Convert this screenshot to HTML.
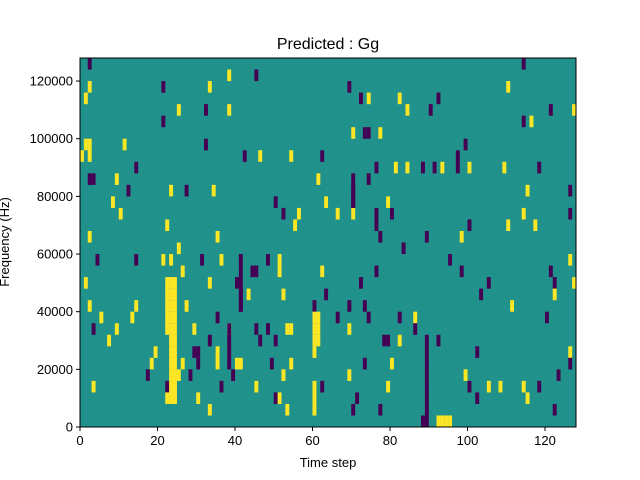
<!DOCTYPE html>
<html><head><style>body{margin:0;background:#fff}svg{display:block}</style></head>
<body>
<svg id="s" width="640" height="480" xmlns="http://www.w3.org/2000/svg" font-family="Liberation Sans, DejaVu Sans, sans-serif">
<rect x="80" y="58" width="496" height="369" fill="#21918c"/>
<g id="cells"></g>
<rect x="80" y="58" width="496" height="369" fill="none" stroke="#000" stroke-width="1"/>
<text x="328" y="49" font-size="16" text-anchor="middle">Predicted : Gg</text>
<text x="328" y="467" font-size="13" text-anchor="middle">Time step</text>
<text transform="translate(9,242) rotate(-90)" font-size="13" text-anchor="middle">Frequency (Hz)</text>
<g id="ax" font-size="13"></g>
</svg>
<script>
var Y="#fde725",P="#440154",g=document.getElementById('cells'),ns="http://www.w3.org/2000/svg";
var cw=496/128,rh=369/32;
function cell(c,r,col){var e=document.createElementNS(ns,'rect');e.setAttribute('x',80+c*cw);e.setAttribute('y',427-(r+1)*rh);e.setAttribute('width',cw+0.05);e.setAttribute('height',rh+0.05);e.setAttribute('fill',col);g.appendChild(e);}
function pt(x,y,col){cell(Math.floor((x-80)/cw),Math.floor((427-y)/rh),col);}
var d="89,62,P;90,85,Y;86,96,Y;163,85,P;229,73,Y;256,73,P;209,85,Y;348,85,P;523,62,P;507,85,Y;361,96,P;368,96,Y;398,96,Y;438,96,P;178,108,Y;206,108,P;229,108,Y;407,108,Y;432,108,P;550,108,P;573,108,Y;163,119,P;523,119,P;531,119,Y;352,130,Y;368,130,P;365,130,P;382,130,Y;84,142,Y;88,142,Y;124,142,Y;206,142,P;467,142,P;83,153,Y;89,153,Y;244,153,P;260,153,Y;291,153,Y;322,153,P;457,153,P;136,165,P;376,165,P;396,165,Y;406,165,Y;424,165,P;434,165,P;444,165,Y;457,165,P;471,165,Y;503,165,Y;539,165,P;90,176,P;93,176,P;117,176,Y;318,176,Y;369,176,P;128,188,P;171,188,Y;186,188,P;213,188,Y;352,188,P;527,188,Y;570,188,P;113,199,Y;276,199,P;325,199,Y;352,199,P;388,199,Y;120,211,Y;283,211,P;298,211,Y;523,211,Y;570,211,P;337,219,Y;352,219,Y;376,219,P;391,219,P;166,230,Y;294,230,Y;376,230,P;469,230,P;508,230,Y;537,230,Y;381,242,P;217,242,Y;427,242,P;462,242,Y;90,242,Y;178,253,Y;405,253,P;97,265,P;136,265,P;163,265,Y;171,265,Y;202,265,P;221,265,Y;241,265,P;268,265,P;279,265,Y;450,265,P;570,265,Y;183,276,Y;252,276,P;256,276,P;281,276,Y;321,276,Y;376,276,P;463,276,P;551,276,P;85,288,Y;167,288,Y;209,288,Y;237,288,P;360,288,P;488,288,P;556,288,P;574,288,Y;240,299,P;248,299,Y;283,299,Y;325,299,P;481,299,P;556,299,Y;90,311,Y;136,311,Y;186,311,Y;240,311,P;313,311,P;351,311,P;363,311,P;512,311,Y;102,322,Y;132,322,Y;218,322,P;338,322,P;370,322,P;398,322,P;414,322,Y;547,322,P;94,331,P;117,331,Y;196,331,Y;229,331,Y;256,331,P;268,331,P;287,331,Y;291,331,Y;350,331,Y;414,331,P;109,342,Y;209,342,P;260,342,P;276,342,P;400,342,Y;440,342,P;384,342,P;388,342,P;155,354,Y;196,354,P;200,354,P;216,354,Y;315,354,Y;569,354,Y;476,354,P;150,365,Y;184,365,Y;199,365,P;218,365,Y;237,365,Y;240,365,Y;270,365,P;292,365,Y;363,365,P;393,365,Y;570,365,P;148,376,P;177,376,Y;190,376,P;234,376,P;283,376,Y;348,376,Y;466,376,Y;560,376,P;93,388,Y;168,388,P;174,388,Y;221,388,P;256,388,Y;313,388,Y;321,388,P;387,388,Y;469,388,P;488,388,Y;500,388,Y;524,388,Y;539,388,P;166,399,Y;176,399,Y;199,399,Y;274,399,P;280,399,Y;315,399,Y;357,399,P;478,399,P;528,399,Y;211,411,Y;288,411,Y;316,411,Y;355,411,P;380,411,P;555,411,P";
d.split(';').forEach(function(s){var a=s.split(',');pt(+a[0],+a[1],a[2]=='Y'?Y:P);});
var r;
for(r=2;r<=12;r++){cell(23,r,Y);cell(24,r,Y);}
for(r=8;r<=11;r++)cell(22,r,Y);
for(r=7;r<=9;r++){cell(60,r,Y);cell(61,r,Y);}
for(r=1;r<=7;r++)cell(89,r,P);
cell(88,0,P);cell(89,0,P);for(var c=92;c<=95;c++)cell(c,0,Y);
for(r=19;r<=21;r++)cell(70,r,P);
for(r=5;r<=8;r++)cell(38,r,P);
for(r=10;r<=13;r++)cell(41,r,P);
var ax=document.getElementById('ax'),h='';
for(var v=0;v<=120;v+=20){var x=80+v*cw;h+='<line x1="'+x+'" y1="427" x2="'+x+'" y2="431" stroke="#000"/><text x="'+x+'" y="445" text-anchor="middle">'+v+'</text>';}
for(var v=0;v<=120000;v+=20000){var y=427-v/128000*369;h+='<line x1="76" y1="'+y+'" x2="80" y2="'+y+'" stroke="#000"/><text x="73" y="'+(y+4.5)+'" text-anchor="end">'+v+'</text>';}
ax.innerHTML=h;
</script>
</body></html>
